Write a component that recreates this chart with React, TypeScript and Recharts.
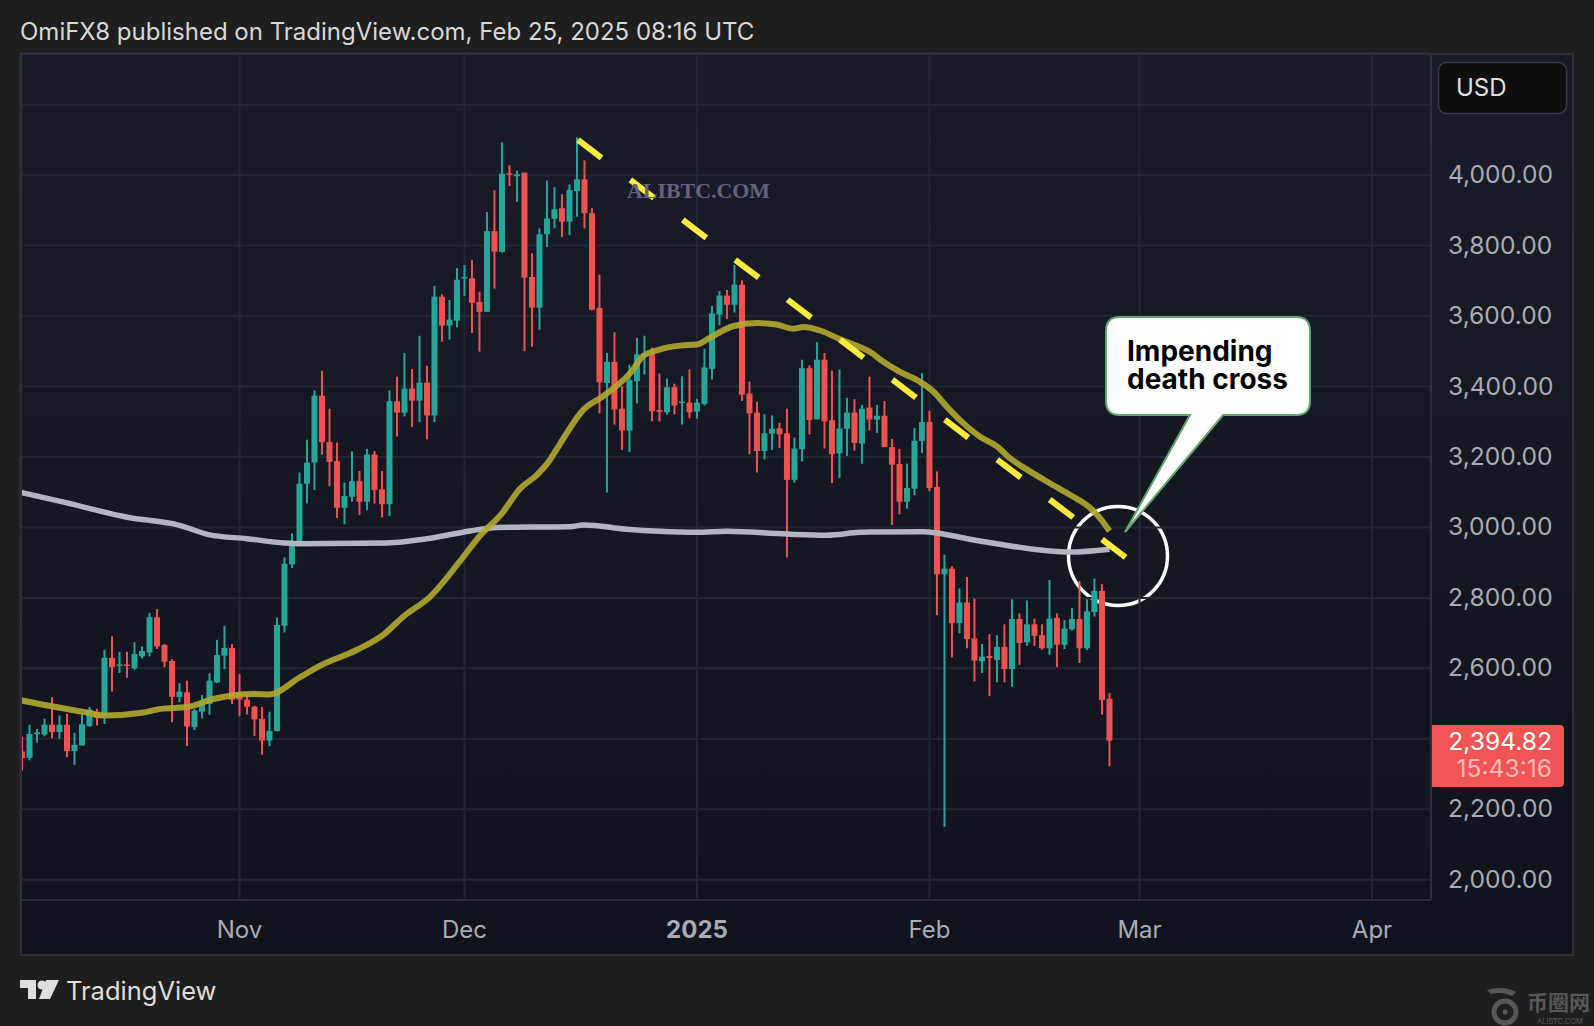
import { Bar, CartesianGrid, ComposedChart, Line, ReferenceLine, XAxis, YAxis } from 'recharts';

// daily candles, Oct 3 2024 -> Feb 25 2025 (index 29 = Nov 1)
const opens = [
  2364, 2346, 2413, 2412, 2440, 2419, 2440, 2365, 2381, 2436, 2477, 2466, 2630, 2607, 2611, 2600, 2634, 2645, 2745, 2666,
  2621, 2519, 2532, 2433, 2477, 2499, 2560, 2636, 2658, 2529, 2511, 2491, 2457, 2395, 2422, 2721, 2895, 2957, 3124, 3184,
  3374, 3242, 3188, 3056, 3087, 3131, 3073, 3207, 3108, 3066, 3358, 3326, 3394, 3360, 3411, 3318, 3655, 3573, 3587, 3707,
  3707, 3640, 3612, 3841, 3782, 4005, 3997, 4007, 3711, 3624, 3832, 3876, 3906, 3868, 3955, 3988, 3892, 3623, 3410, 3470,
  3337, 3275, 3415, 3486, 3495, 3333, 3327, 3398, 3353, 3354, 3329, 3351, 3450, 3604, 3658, 3632, 3689, 3380, 3326, 3217,
  3266, 3281, 3267, 3135, 3222, 3452, 3307, 3476, 3304, 3210, 3280, 3326, 3238, 3340, 3306, 3317, 3228, 3180, 3073, 3110,
  3246, 3299, 3115, 2867, 2883, 2728, 2787, 2685, 2620, 2635, 2624, 2661, 2598, 2740, 2674, 2725, 2694, 2657, 2743, 2667,
  2711, 2740, 2657, 2760, 2820, 2514,
];
const closes = [
  2345, 2414, 2418, 2440, 2419, 2440, 2365, 2383, 2441, 2483, 2459, 2630, 2603, 2611, 2607, 2641, 2649, 2745, 2662, 2619,
  2519, 2534, 2435, 2480, 2506, 2565, 2638, 2658, 2511, 2511, 2491, 2455, 2395, 2422, 2723, 2897, 2959, 3124, 3184, 3374,
  3242, 3186, 3056, 3089, 3131, 3073, 3207, 3106, 3066, 3358, 3326, 3394, 3360, 3411, 3318, 3655, 3573, 3590, 3703, 3711,
  3638, 3612, 3841, 3783, 4004, 4002, 4002, 3709, 3624, 3832, 3877, 3903, 3868, 3958, 3988, 3892, 3618, 3412, 3470, 3335,
  3275, 3418, 3491, 3495, 3330, 3328, 3398, 3346, 3357, 3327, 3354, 3454, 3607, 3658, 3632, 3689, 3377, 3324, 3217, 3267,
  3280, 3264, 3135, 3224, 3452, 3305, 3476, 3301, 3208, 3281, 3326, 3240, 3337, 3306, 3317, 3228, 3178, 3073, 3112, 3246,
  3299, 3112, 2867, 2883, 2728, 2787, 2683, 2622, 2633, 2629, 2661, 2598, 2740, 2672, 2725, 2692, 2657, 2741, 2667, 2713,
  2740, 2657, 2762, 2820, 2510, 2394.82,
];
const highs = [
  2405, 2440, 2428, 2457, 2518, 2466, 2471, 2417, 2471, 2490, 2485, 2653, 2691, 2647, 2647, 2674, 2662, 2757, 2768, 2669,
  2626, 2558, 2565, 2485, 2524, 2586, 2681, 2721, 2669, 2584, 2523, 2494, 2490, 2477, 2744, 2915, 2983, 3156, 3249, 3389,
  3445, 3337, 3241, 3127, 3216, 3160, 3223, 3217, 3160, 3389, 3428, 3495, 3450, 3544, 3459, 3686, 3662, 3646, 3736, 3745,
  3759, 3669, 3895, 3957, 4093, 4028, 4013, 4007, 3778, 3849, 3985, 3966, 3946, 3974, 4107, 4042, 3906, 3717, 3495, 3554,
  3401, 3462, 3538, 3544, 3510, 3437, 3422, 3408, 3429, 3448, 3365, 3507, 3629, 3671, 3674, 3745, 3701, 3414, 3357, 3321,
  3318, 3297, 3337, 3255, 3476, 3460, 3526, 3495, 3445, 3448, 3368, 3364, 3348, 3428, 3348, 3359, 3251, 3223, 3181, 3282,
  3438, 3331, 3159, 2923, 2890, 2827, 2859, 2798, 2669, 2697, 2694, 2725, 2796, 2756, 2793, 2741, 2725, 2851, 2756, 2737,
  2771, 2848, 2796, 2855, 2839, 2530,
];
const lows = [
  2310, 2339, 2389, 2407, 2402, 2400, 2348, 2326, 2381, 2435, 2438, 2442, 2534, 2587, 2573, 2596, 2628, 2634, 2655, 2603,
  2447, 2504, 2379, 2425, 2458, 2468, 2558, 2598, 2499, 2464, 2469, 2408, 2355, 2379, 2421, 2702, 2885, 2953, 3068, 3106,
  3207, 3117, 3027, 3009, 3073, 3035, 3049, 3068, 3028, 3032, 3258, 3315, 3285, 3299, 3250, 3299, 3527, 3533, 3568, 3657,
  3552, 3499, 3612, 3678, 3780, 3969, 3924, 3500, 3513, 3561, 3796, 3849, 3824, 3830, 3882, 3849, 3616, 3324, 3099, 3292,
  3220, 3214, 3352, 3434, 3301, 3301, 3320, 3321, 3292, 3310, 3309, 3346, 3420, 3574, 3592, 3610, 3359, 3208, 3156, 3193,
  3220, 3225, 2915, 3127, 3187, 3264, 3307, 3224, 3126, 3140, 3203, 3218, 3181, 3275, 3268, 3228, 3007, 3037, 3053, 3091,
  3211, 3103, 2751, 2150, 2631, 2699, 2657, 2563, 2587, 2521, 2560, 2560, 2548, 2610, 2664, 2664, 2653, 2639, 2603, 2655,
  2707, 2615, 2652, 2747, 2469, 2322,
];

// 50 day and 200 day averages, read at bar positions
const sma50Bars = [-0.3, 3, 8, 11, 16, 18.5, 22, 25.5, 28, 31, 33, 37, 39.7, 44.6, 48.2, 50.9, 54.4, 58.4, 61, 64, 66.4, 68.6, 70.2, 71.7, 74.9, 77.5, 81.3, 82.8, 85, 87.7, 90, 91.7, 94.8, 98, 100.6, 102.8, 104.2, 106.4, 109, 111.7, 113, 114.8, 117, 119.7, 121.5, 123.3, 125.5, 127.7, 130, 131.7, 134.4, 137, 140, 142.4, 143.7, 145];
const sma50Values = [2510, 2496, 2477, 2466, 2474, 2485, 2490, 2513, 2523, 2527, 2526, 2574, 2607, 2652, 2696, 2748, 2803, 2904, 2975, 3040, 3110, 3148, 3186, 3236, 3335, 3373, 3443, 3486, 3505, 3516, 3519, 3538, 3571, 3580, 3576, 3564, 3569, 3559, 3535, 3512, 3499, 3471, 3442, 3414, 3386, 3343, 3296, 3258, 3230, 3197, 3159, 3126, 3089, 3056, 3027, 2990];
const sma200Bars = [-0.3, 5.7, 14, 21, 25, 30, 35, 37, 48.6, 54.4, 59.7, 63.3, 73, 74.9, 80.6, 85, 90, 94, 102, 107.3, 111.7, 113, 120.2, 122.4, 126, 130.4, 137, 139.7, 145];
const sma200Values = [3100, 3071, 3029, 3006, 2979, 2968, 2956, 2954, 2956, 2969, 2990, 3000, 3002, 3007, 2995, 2989, 2986, 2989, 2981, 2978, 2986, 2987, 2988, 2983, 2968, 2952, 2933, 2930, 2938];

const priceTicks = [2000, 2200, 2400, 2600, 2800, 3000, 3200, 3400, 3600, 3800, 4000, 4200];
// these two sit under the USD box and the last price tag, so no label
const hiddenPriceLabels = [2400, 4200];
const monthBars = [29, 59, 90, 121, 149, 180];
const monthLabels = ['Nov', 'Dec', '2025', 'Feb', 'Mar', 'Apr'];

// hand drawn trend line, from the December top
const trendBars = [74.13, 147.2];
const trendPrices = [4100, 2914];

const candleData = opens.map((open, i) => ({ bar: i, open, close: closes[i], high: highs[i], low: lows[i] }));
const sma50Data = sma50Bars.map((bar, i) => ({ bar, value: sma50Values[i] }));
const sma200Data = sma200Bars.map((bar, i) => ({ bar, value: sma200Values[i] }));

const UP = '#26a69a';
const DOWN = '#ef5350';
const GRID = '#232733';
const BORDER = '#2d303a';
const LABEL = '#a9acb5';
const FONT = 'Inter, sans-serif';
const BODY_WIDTH = 6;

const Candle = (props: any) => {
  const { x, y, width, height, payload } = props;
  const mid = x + width / 2;
  const perUnit = height / (payload.high - payload.low);
  const top = y + (payload.high - Math.max(payload.open, payload.close)) * perUnit;
  const bottom = y + (payload.high - Math.min(payload.open, payload.close)) * perUnit;
  const fill = payload.close >= payload.open ? UP : DOWN;
  return (
    <g>
      <rect x={mid - 1} y={y} width={2} height={height} fill={fill} />
      <rect x={mid - BODY_WIDTH / 2} y={top} width={BODY_WIDTH} height={Math.max(bottom - top, 1.5)} fill={fill} />
    </g>
  );
};

const MonthTick = ({ x, y, payload }: any) => {
  const label = monthLabels[monthBars.indexOf(payload.value)];
  return (
    <text x={x} y={y + 30} textAnchor="middle" fontFamily={FONT} fontSize={24} fill={LABEL} fontWeight={label === '2025' ? 700 : 400}>
      {label}
    </text>
  );
};

const PriceTick = ({ x, y, payload }: any) => {
  if (hiddenPriceLabels.includes(payload.value)) return null;
  return (
    <text x={x} y={y + 8} fontFamily={FONT} fontSize={24.6} fill={LABEL}>
      {payload.value.toLocaleString('en-US', { minimumFractionDigits: 2 })}
    </text>
  );
};

export default function App() {
  return (
    <div style={{ position: 'absolute', left: 0, top: 0, width: 1594, height: 1026, background: '#1e1e1e', overflow: 'hidden' }}>
      <div style={{ position: 'absolute', left: 20, top: 53, width: 1554, height: 903, background: 'linear-gradient(#1a1d29, #10131d)' }} />
      <svg width={1594} height={1026} style={{ position: 'absolute', left: 0, top: 0 }}>
        <circle cx={1118} cy={556} r={49.5} fill="none" stroke="#ffffff" strokeWidth={3.5} />
      </svg>

      <div style={{ position: 'absolute', left: 0, top: 0 }}>
        <ComposedChart width={1594} height={1026} data={candleData} margin={{ left: 20, top: 53, right: 20, bottom: 70 }}>
          <CartesianGrid stroke={GRID} strokeWidth={2} />
          <XAxis
            dataKey="bar"
            type="number"
            domain={[-0.27, 187.87]}
            allowDataOverflow
            ticks={monthBars}
            interval={0}
            height={56}
            tick={<MonthTick />}
            tickLine={false}
            axisLine={{ stroke: BORDER, strokeWidth: 2 }}
          />
          <YAxis
            orientation="right"
            type="number"
            domain={[1942.4, 4346.7]}
            allowDataOverflow
            ticks={priceTicks}
            interval={0}
            width={143}
            tickLine={false}
            tickMargin={11}
            axisLine={{ stroke: BORDER, strokeWidth: 2 }}
            tick={<PriceTick />}
          />
          <Bar dataKey={(d: any) => [d.low, d.high]} barSize={6} shape={<Candle />} isAnimationActive={false} />
          <Line data={sma200Data} dataKey="value" type="monotone" stroke="#b2b5be" strokeWidth={5.5} dot={false} isAnimationActive={false} />
          <Line data={sma50Data} dataKey="value" type="monotone" stroke="#b3a82f" strokeOpacity={0.9} strokeWidth={6} dot={false} isAnimationActive={false} />
          <ReferenceLine
            segment={[{ x: trendBars[0], y: trendPrices[0] }, { x: trendBars[1], y: trendPrices[1] }]}
            stroke="#ffeb3b"
            strokeWidth={6}
            strokeDasharray="29.6 36.3"
          />
        </ComposedChart>
      </div>

      <svg width={1594} height={1026} style={{ position: 'absolute', left: 0, top: 0 }}>
        <rect x={21} y={54} width={1552} height={901} fill="none" stroke={BORDER} strokeWidth={2} />

        <text x={20} y={40} fontFamily={FONT} fontSize={24} fill="#d8d8d8">OmiFX8 published on TradingView.com, Feb 25, 2025 08:16 UTC</text>

        <text x={627} y={198} fontFamily="'Liberation Serif', serif" fontWeight={700} fontSize={21.9} fill="#62647f">ALIBTC.COM</text>

        <rect x={1438.5} y={62.5} width={128} height={51} rx={8} fill="#0e0e0f" stroke="#363a45" strokeWidth={1.5} />
        <text x={1456} y={96} fontFamily={FONT} fontSize={24} fill="#e0e0e0">USD</text>

        <path d="M1432 725H1560Q1564 725 1564 729V783Q1564 787 1560 787H1432Z" fill="#f15454" />
        <text x={1552} y={750} textAnchor="end" fontFamily={FONT} fontSize={24.6} fill="#ffffff">2,394.82</text>
        <text x={1552} y={777} textAnchor="end" fontFamily={FONT} fontSize={24.6} fill="#fbb9b8">15:43:16</text>

        <path
          d="M1120 317H1296Q1310 317 1310 331V401Q1310 415 1296 415H1223L1125 532L1190 415H1120Q1106 415 1106 401V331Q1106 317 1120 317Z"
          fill="#ffffff"
          stroke="#62a970"
          strokeWidth={2}
        />
        <text x={1127} y={361} fontFamily={FONT} fontWeight={700} fontSize={28} fill="#000000">Impending</text>
        <text x={1127} y={389} fontFamily={FONT} fontWeight={700} fontSize={28} fill="#000000">death cross</text>

        <g fill="#dedede">
          <path d="M20 980H36V999H28V988H20Z" />
          <circle cx={42} cy={985} r={4.5} />
          <path d="M46 980H59L50 999H39Z" />
        </g>
        <text x={66} y={1000} fontFamily={FONT} fontSize={25.5} fill="#dedede">TradingView</text>

        <g fill="#575757">
          <path d="M1487 990Q1503 985 1516 992L1512 996Q1502 991 1491 994Z" />
          <text x={1527} y={1010} fontFamily="'Noto Sans CJK SC', sans-serif" fontWeight={700} fontSize={21}>币圈网</text>
          <text x={1537} y={1024} fontFamily={FONT} fontSize={7.5}>ALIBTC.COM</text>
        </g>
        <circle cx={1505} cy={1012} r={11} fill="none" stroke="#575757" strokeWidth={5} />
        <circle cx={1505} cy={1012} r={2.5} fill="#575757" />
      </svg>
    </div>
  );
}
